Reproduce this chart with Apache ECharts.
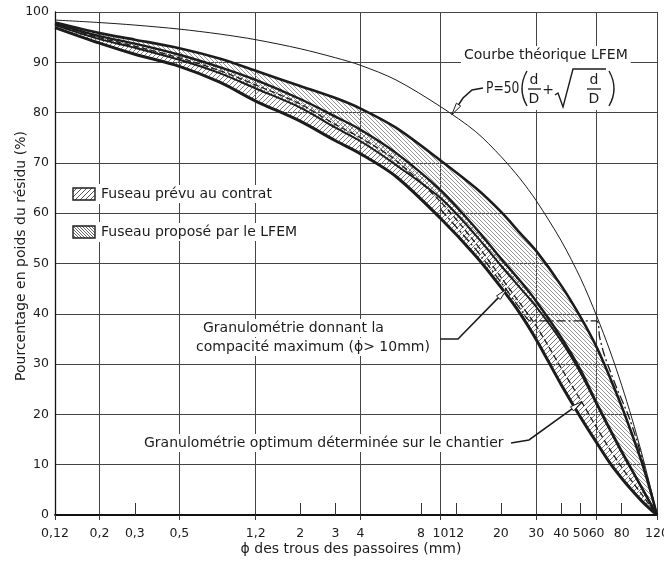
<!DOCTYPE html>
<html><head><meta charset="utf-8">
<script src="https://cdn.jsdelivr.net/npm/echarts@6/dist/echarts.min.js"></script>
<style>html,body{margin:0;padding:0;background:#fff}#c{width:664px;height:564px}</style>
</head><body><div id="c"></div>
<script>
// ---------- data ----------
const dGrid = [0.12, 0.2, 0.3, 0.5, 0.8, 1.2, 2, 3, 4, 6, 10, 15, 20, 25, 30, 40, 50, 60, 70, 80, 90, 100, 110, 120];
// Fuseau proposé par le LFEM (upper / lower limits)
const lfemUpper = [97.9, 95.8, 94.5, 92.8, 90.7, 88.3, 85.3, 82.9, 80.8, 77.0, 70.5, 65.0, 60.3, 56.0, 52.5, 45.6, 39.3, 33.4, 27.3, 21.6, 16.1, 10.9, 5.5, 0];
const lfemLower = [97.4, 94.6, 92.9, 90.5, 87.8, 84.8, 81.0, 77.0, 74.3, 69.6, 63.0, 55.6, 49.6, 45.1, 41.4, 34.6, 28.2, 22.0, 16.8, 12.4, 8.8, 5.6, 2.6, 0];
// Fuseau prévu au contrat (upper / lower limits)
const contractUpper = [97.7, 95.2, 93.7, 91.5, 89.0, 86.5, 82.7, 79.2, 76.6, 72.0, 64.6, 57.0, 51.0, 46.5, 42.5, 35.3, 28.8, 22.3, 17.1, 12.7, 9.0, 5.7, 2.7, 0];
const contractLower = [96.9, 93.8, 91.6, 89.2, 86.0, 82.3, 78.3, 74.4, 71.8, 67.3, 59.0, 51.5, 45.3, 40.0, 34.9, 25.9, 19.4, 14.4, 10.3, 7.3, 4.9, 2.9, 1.3, 0];
// Granulométrie optimum déterminée sur le chantier
const optimum = [97.5, 94.9, 93.2, 90.9, 88.3, 85.5, 81.7, 77.6, 75.0, 70.5, 62.3, 54.0, 47.3, 42.0, 37.6, 29.2, 22.8, 17.4, 13.0, 9.5, 6.7, 4.3, 2.0, 0];
// Granulométrie donnant la compacité maximum (phi > 10 mm)
const compactD = [10, 15, 20, 25, 28, 60, 62, 65, 68, 76, 86, 95, 103, 112, 120];
const compactV = [60.8, 52.8, 46.3, 41.0, 38.6, 38.6, 35.5, 32.3, 30.0, 25.0, 20.0, 15.0, 10.0, 4.8, 0];
// Courbe théorique LFEM
const theoretical = [98.4, 97.9, 97.4, 96.6, 95.6, 94.5, 92.7, 90.9, 89.4, 86.5, 81.2, 76.2, 71.3, 66.8, 62.5, 54.5, 47.0, 39.6, 32.6, 25.8, 19.2, 12.7, 6.3, 0];
// axis ticks
const xLabelValues = [0.12, 0.2, 0.3, 0.5, 1.2, 2, 3, 4, 8, 10, 12, 20, 30, 40, 50, 60, 80, 120];
const xGridValues = [0.12, 0.2, 0.5, 1.2, 4, 10, 30, 60, 120];
const xShortTicks = [0.3, 2, 3, 8, 12, 20, 40, 50, 80];

// ---------- helpers ----------
const FONT = '"DejaVu Sans", sans-serif';
const INK = '#1c1c1c';
function hatch(dir, size, color, w) {
  const c = document.createElement('canvas');
  c.width = size; c.height = size;
  const g = c.getContext('2d');
  g.strokeStyle = color; g.lineWidth = w;
  g.beginPath();
  for (let k = -1; k <= 1; k++) {
    if (dir === '/') { g.moveTo(k * size, size); g.lineTo(k * size + size, 0); }
    else { g.moveTo(k * size, 0); g.lineTo(k * size + size, size); }
  }
  g.stroke();
  return { image: c, repeat: 'repeat' };
}
const patContract = hatch('/', 5, '#7a7a7a', 1);
const patLfem = hatch('\\', 4, '#8a8a8a', 0.9);
const pair = (xs, ys) => xs.map((x, i) => [x, ys[i]]);
const fmt = v => String(+(+v).toPrecision(6)).replace('.', ',');

const chart = echarts.init(document.getElementById('c'), null, { renderer: 'canvas', width: 664, height: 564 });

const baseLine = { type: 'line', symbol: 'none', smooth: 0.3, xAxisIndex: 0, yAxisIndex: 0, silent: true, animation: false };

function band(name, xs, upper, lower, pat, z) {
  return {
    type: 'custom', name: name, xAxisIndex: 0, yAxisIndex: 0, silent: true, z: z, animation: false,
    data: [[xs[0], lower[0]]],
    renderItem: function (params, api) {
      const pts = [];
      for (let i = 0; i < xs.length; i++) pts.push(api.coord([xs[i], upper[i]]));
      for (let i = xs.length - 1; i >= 0; i--) pts.push(api.coord([xs[i], lower[i]]));
      return { type: 'polygon', shape: { points: pts }, style: { fill: pat, stroke: null } };
    }
  };
}

const option = {
  animation: false,
  backgroundColor: '#fff',
  textStyle: { fontFamily: FONT },
  grid: { left: 55, right: 7, top: 12, bottom: 49, containLabel: false, outerBoundsMode: 'none' },
  xAxis: [
    {
      type: 'log', logBase: 10, min: 0.12, max: 120, position: 'bottom', offset: 0,
      axisLine: { show: true, onZero: false, lineStyle: { color: '#111', width: 1.8 } },
      axisTick: { show: true, customValues: xGridValues, inside: false, length: 5, lineStyle: { color: '#333', width: 1 } },
      axisLabel: { show: false },
      splitLine: { show: true, lineStyle: { color: '#444', width: 1 } },
      minorTick: { show: false }, minorSplitLine: { show: false }
    },
    {
      type: 'log', logBase: 10, min: 0.12, max: 120, position: 'bottom', offset: 0,
      axisLine: { show: false, onZero: false },
      axisTick: { show: true, customValues: xShortTicks, inside: true, length: 12, lineStyle: { color: '#333', width: 1 } },
      axisLabel: { show: true, customValues: xLabelValues, formatter: fmt, margin: 12, color: INK, fontSize: 12.5, fontFamily: FONT, hideOverlap: false },
      splitLine: { show: false },
      minorTick: { show: false }, minorSplitLine: { show: false },
      name: 'ϕ des trous des passoires (mm)', nameLocation: 'middle', nameGap: 27, nameMoveOverlap: false,
      nameTextStyle: { color: INK, fontSize: 14, fontFamily: FONT, padding: [0, 10, 0, 0] }
    }
  ],
  yAxis: {
    type: 'value', min: 0, max: 100, interval: 10,
    axisLine: { show: true, lineStyle: { color: '#111', width: 1.3 } },
    axisTick: { show: false },
    axisLabel: { color: INK, fontSize: 12.5, fontFamily: FONT, margin: 6 },
    splitLine: { show: true, lineStyle: { color: '#444', width: 1 } },
    name: 'Pourcentage en poids du résidu (%)', nameLocation: 'middle', nameGap: 27, nameRotate: 90, nameMoveOverlap: false,
    nameTextStyle: { color: INK, fontSize: 14, fontFamily: FONT, padding: [0, 0, 0, 15] }
  },
  series: [
    band('Fuseau prévu au contrat', dGrid, contractUpper, contractLower, patContract, 2),
    band('Fuseau proposé par le LFEM', dGrid, lfemUpper, lfemLower, patLfem, 2),
    Object.assign({}, baseLine, { name: 'contractLower', data: pair(dGrid, contractLower), lineStyle: { color: INK, width: 3 }, z: 3 }),
    Object.assign({}, baseLine, { name: 'contractUpper', data: pair(dGrid, contractUpper), lineStyle: { color: INK, width: 2.4 }, z: 3 }),
    Object.assign({}, baseLine, { name: 'lfemLower', data: pair(dGrid, lfemLower), lineStyle: { color: INK, width: 2 }, z: 4 }),
    Object.assign({}, baseLine, { name: 'lfemUpper', data: pair(dGrid, lfemUpper), lineStyle: { color: INK, width: 2.6 }, z: 4 }),
    Object.assign({}, baseLine, { name: 'optimum', data: pair(dGrid, optimum), lineStyle: { color: INK, width: 1.3, type: [6, 3] }, z: 5 }),
    Object.assign({}, baseLine, { name: 'compacite', data: pair(compactD, compactV), smooth: 0.2, lineStyle: { color: INK, width: 1.3, type: [9, 3, 2, 3] }, z: 5 }),
    Object.assign({}, baseLine, { name: 'theorique', data: pair(dGrid, theoretical), lineStyle: { color: INK, width: 1 }, z: 5 })
  ]
};
chart.setOption(option);

// ---------- annotations (arrow tips placed through the chart's own scales) ----------
const toPx = (d, v) => chart.convertToPixel({ seriesIndex: 8 }, [d, v]);
function arrowHead(tip, from, len, half) {
  const dx = tip[0] - from[0], dy = tip[1] - from[1];
  const L = Math.hypot(dx, dy) || 1;
  const ux = dx / L, uy = dy / L, px = -uy, py = ux;
  const bx = tip[0] - ux * len, by = tip[1] - uy * len;
  return [[tip[0], tip[1]], [bx + px * half, by + py * half], [bx - px * half, by - py * half]];
}
function leader(points) {
  const tip = points[points.length - 1], prev = points[points.length - 2];
  return [
    { type: 'polyline', z: 20, shape: { points: points, smooth: 0 }, style: { stroke: INK, lineWidth: 1.6, fill: null } },
    { type: 'polygon', z: 21, shape: { points: arrowHead(tip, prev, 12, 2.6) }, style: { fill: '#fff', stroke: INK, lineWidth: 1 } }
  ];
}
function txt(text, x, y, size, extra, elExtra) {
  return Object.assign({ type: 'text', z: 15, x: x, y: y,
    style: Object.assign({ text: text, font: size + 'px ' + FONT, fill: INK, align: 'left', verticalAlign: 'middle',
      backgroundColor: '#fff', padding: [2, 3] }, extra || {}) }, elExtra || {});
}

const tipTheo = toPx(11.4, 79.6);
const tipComp = toPx(21.4, 44.9);
const tipOpt = toPx(50.6, 22.5);

const elements = [];
// legend
elements.push({ type: 'rect', z: 14, shape: { x: 70, y: 184, width: 30, height: 20 }, style: { fill: '#fff' } });
elements.push({ type: 'rect', z: 15, shape: { x: 73, y: 188, width: 22, height: 12 }, style: { fill: hatch('/', 5, '#555', 1), stroke: INK, lineWidth: 1.4 } });
elements.push(txt('Fuseau prévu au contrat', 98, 194, 14));
elements.push({ type: 'rect', z: 14, shape: { x: 70, y: 222, width: 30, height: 20 }, style: { fill: '#fff' } });
elements.push({ type: 'rect', z: 15, shape: { x: 73, y: 226, width: 22, height: 12 }, style: { fill: hatch('\\', 3, '#555', 0.9), stroke: INK, lineWidth: 1.4 } });
elements.push(txt('Fuseau proposé par le LFEM', 98, 232, 14));

// theoretical curve label + formula
elements.push(txt('Courbe théorique LFEM', 461, 55, 14));
elements.push({ type: 'rect', z: 14, shape: { x: 479, y: 64, width: 142, height: 46 }, style: { fill: '#fff' } });
const fz = 14;
elements.push(txt('P=50', 486, 89, 15, { backgroundColor: null, padding: 0 }, { scaleX: 0.82 }));
elements.push({ type: 'bezierCurve', z: 16, shape: { x1: 527, y1: 71, x2: 527, y2: 106, cpx1: 517, cpy1: 88.5 }, style: { stroke: INK, lineWidth: 1.4, fill: null } });
elements.push(txt('d', 534, 80, fz, { align: 'center', backgroundColor: null, padding: 0 }));
elements.push({ type: 'line', z: 16, shape: { x1: 528, y1: 89, x2: 541, y2: 89 }, style: { stroke: INK, lineWidth: 1.3 } });
elements.push(txt('D', 534, 99, fz, { align: 'center', backgroundColor: null, padding: 0 }));
elements.push(txt('+', 548, 90, 14, { align: 'center', backgroundColor: null, padding: 0 }));
elements.push({ type: 'polyline', z: 16, shape: { points: [[555, 95], [558, 93], [563, 107], [573, 69], [606, 69]] }, style: { stroke: INK, lineWidth: 1.4, fill: null } });
elements.push(txt('d', 594, 80, fz, { align: 'center', backgroundColor: null, padding: 0 }));
elements.push({ type: 'line', z: 16, shape: { x1: 587, y1: 89, x2: 601, y2: 89 }, style: { stroke: INK, lineWidth: 1.3 } });
elements.push(txt('D', 594, 99, fz, { align: 'center', backgroundColor: null, padding: 0 }));
elements.push({ type: 'bezierCurve', z: 16, shape: { x1: 609, y1: 71, x2: 609, y2: 106, cpx1: 619, cpy1: 88.5 }, style: { stroke: INK, lineWidth: 1.4, fill: null } });
leader([[483, 88], [472, 90], [463, 98], tipTheo]).forEach(e => elements.push(e));

// compacité maximum
elements.push(txt('Granulométrie donnant la', 200, 328, 14));
elements.push(txt('compacité maximum (ϕ> 10mm)', 193, 347, 14));
leader([[440, 339], [458, 339], tipComp]).forEach(e => elements.push(e));

// optimum
elements.push(txt('Granulométrie optimum déterminée sur le chantier', 141, 443, 14));
leader([[511, 443], [529, 440], tipOpt]).forEach(e => elements.push(e));

chart.setOption({ graphic: { elements: elements } });
</script>
</body></html>
